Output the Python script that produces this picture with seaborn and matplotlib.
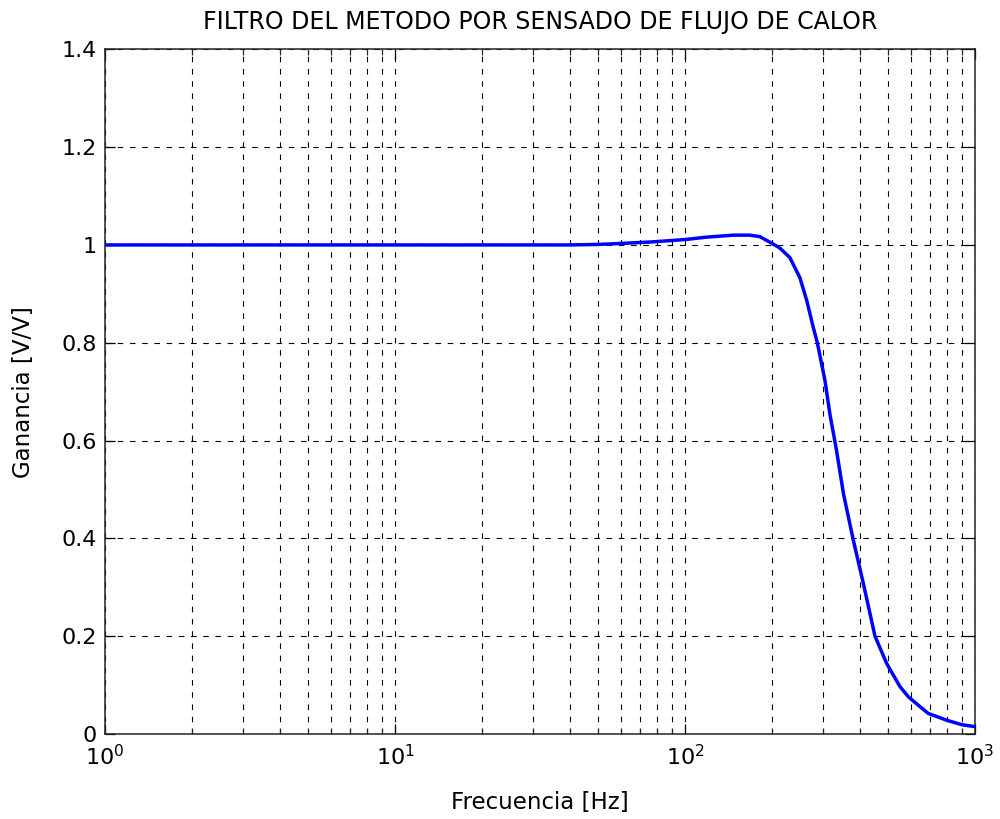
import matplotlib
matplotlib.use("Agg")
import matplotlib.pyplot as plt
import matplotlib.ticker as mticker
import numpy as np
import pandas as pd
import seaborn as sns

# Frequency response of the heat-flux sensing filter
freq_hz = [1, 10, 40, 50, 60, 76, 100, 119, 147, 167, 181, 197, 212, 230,
           249, 263, 277, 286, 304, 316, 333, 352, 380, 412, 452, 496, 551,
           589, 646, 690, 800, 900, 1000]
gain_vv = [1.0, 1.0, 1.0, 1.001, 1.003, 1.006, 1.011, 1.016, 1.020, 1.020,
           1.017, 1.005, 0.994, 0.974, 0.933, 0.886, 0.831, 0.800, 0.722,
           0.654, 0.580, 0.491, 0.398, 0.308, 0.200, 0.144, 0.097, 0.076,
           0.056, 0.042, 0.028, 0.019, 0.015]

y_ticks = [0, 0.2, 0.4, 0.6, 0.8, 1.0, 1.2, 1.4]
y_tick_labels = ["0", "0.2", "0.4", "0.6", "0.8", "1", "1.2", "1.4"]

title_text = "FILTRO DEL METODO POR SENSADO DE FLUJO DE CALOR"
x_label = "Frecuencia [Hz]"
y_label = "Ganancia [V/V]"

sns.set_style("ticks")
plt.rcParams["font.family"] = ["DejaVu Sans"]
plt.rcParams["mathtext.fontset"] = "dejavusans"
plt.rcParams["text.color"] = "black"
plt.rcParams["axes.labelcolor"] = "black"

df = pd.DataFrame({"f": freq_hz, "g": gain_vv})

fig = plt.figure(figsize=(10, 8.19), dpi=100)
ax = fig.add_axes([0.105, 0.1038, 0.870, 0.836])

sns.lineplot(data=df, x="f", y="g", ax=ax, color="#0000ff", linewidth=2.5,
             zorder=3)

ax.set_xscale("log")
ax.set_xlim(1, 1000)
ax.set_ylim(0, 1.4)
ax.set_yticks(y_ticks)
ax.set_yticklabels(y_tick_labels)
ax.xaxis.set_major_locator(mticker.LogLocator(base=10, numticks=10))
ax.xaxis.set_minor_locator(mticker.LogLocator(base=10, subs=np.arange(2, 10), numticks=20))
ax.xaxis.set_minor_formatter(mticker.NullFormatter())

grid_kw = dict(color="black", linewidth=0.8, linestyle=(0, (5, 6)))
ax.grid(True, which="major", axis="both", **grid_kw)
ax.grid(True, which="minor", axis="x", **grid_kw)

for s in ax.spines.values():
    s.set_color("#222222")
    s.set_linewidth(1.1)
    s.set_visible(True)

ax.tick_params(axis="both", which="major", direction="in", length=7, width=0.9,
               top=True, right=True, labelsize=16, colors="black")
ax.tick_params(axis="y", which="major", pad=6)
ax.tick_params(axis="x", which="major", pad=7)
ax.tick_params(axis="x", which="minor", direction="in", length=4, width=0.9,
               top=True)

ax.set_title(title_text, fontsize=17, y=1.0394, va="center", pad=0)
ax.set_xlabel(x_label, fontsize=16.5)
ax.set_ylabel(y_label, fontsize=16.5)
ax.xaxis.label.set_va("center")
ax.yaxis.label.set_va("center")
ax.xaxis.set_label_coords(0.5, -0.1007)
ax.yaxis.set_label_coords(-0.094, 0.5)

fig.savefig("out.png", dpi=100, facecolor="white")
